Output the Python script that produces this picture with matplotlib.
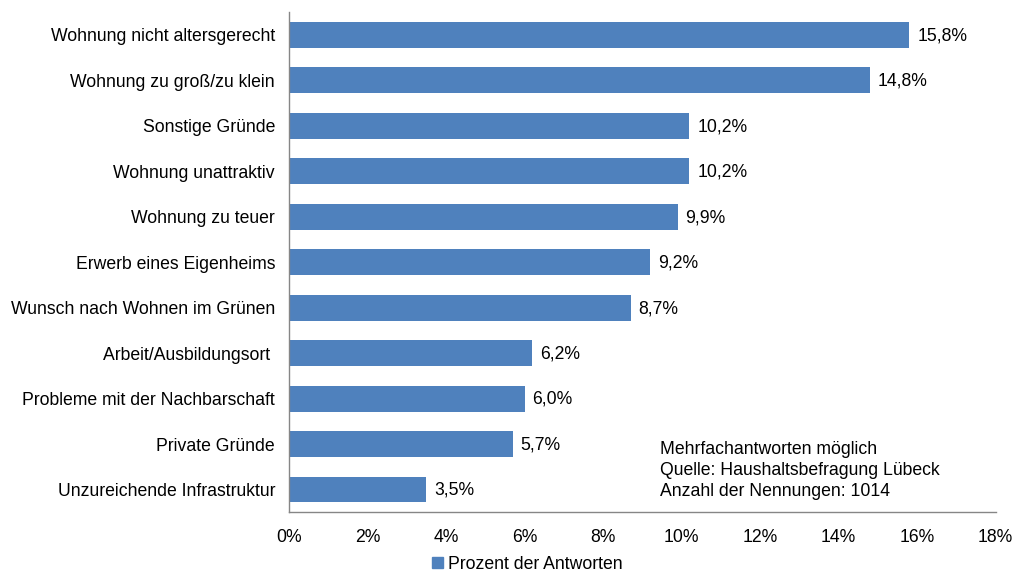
import matplotlib
matplotlib.use("Agg")
import matplotlib.pyplot as plt
from matplotlib.patches import Patch

plt.rcParams['font.family'] = ['Liberation Sans', 'DejaVu Sans']

categories = [
    "Wohnung nicht altersgerecht",
    "Wohnung zu groß/zu klein",
    "Sonstige Gründe",
    "Wohnung unattraktiv",
    "Wohnung zu teuer",
    "Erwerb eines Eigenheims",
    "Wunsch nach Wohnen im Grünen",
    "Arbeit/Ausbildungsort ",
    "Probleme mit der Nachbarschaft",
    "Private Gründe",
    "Unzureichende Infrastruktur",
]
values = [15.8, 14.8, 10.2, 10.2, 9.9, 9.2, 8.7, 6.2, 6.0, 5.7, 3.5]
xticks = [0, 2, 4, 6, 8, 10, 12, 14, 16, 18]
series_name = "Prozent der Antworten"
note = "Mehrfachantworten möglich\nQuelle: Haushaltsbefragung Lübeck\nAnzahl der Nennungen: 1014"

color = "#4F81BD"
fs = 12.7
fig = plt.figure(figsize=(10.14, 5.73), dpi=100)
ax = fig.add_axes([0.285, 0.106, 0.982 - 0.285, 0.979 - 0.106])

y = list(range(len(categories)))
ax.barh(y, values, height=0.57, color=color)
ax.set_ylim(len(categories) - 0.5, -0.5)
ax.set_xlim(0, 18)
ax.set_yticks(y)
ax.set_yticklabels(categories, fontsize=fs)
ax.set_xticks(xticks)
ax.set_xticklabels([f"{t}%" for t in xticks], fontsize=fs)
ax.tick_params(axis='both', length=0)
ax.tick_params(axis='y', pad=10)
ax.tick_params(axis='x', pad=12)
for s in ['top', 'right']:
    ax.spines[s].set_visible(False)
for s in ['left', 'bottom']:
    ax.spines[s].set_color('#868686')
    ax.spines[s].set_linewidth(1)

for yi, v in zip(y, values):
    ax.text(v + 0.2, yi + 0.02, f"{v:.1f}%".replace('.', ','), va='center', ha='left', fontsize=fs)

ax.text(0.525, 0.142, note, transform=ax.transAxes, fontsize=fs, va='top', ha='left', linespacing=1.28)

fig.legend(handles=[Patch(color=color, label=series_name)], loc='lower center',
           bbox_to_anchor=(0.52, -0.027), frameon=False, fontsize=fs,
           handlelength=0.6, handleheight=0.6, handletextpad=0.3)

fig.savefig("out.png", dpi=100)
